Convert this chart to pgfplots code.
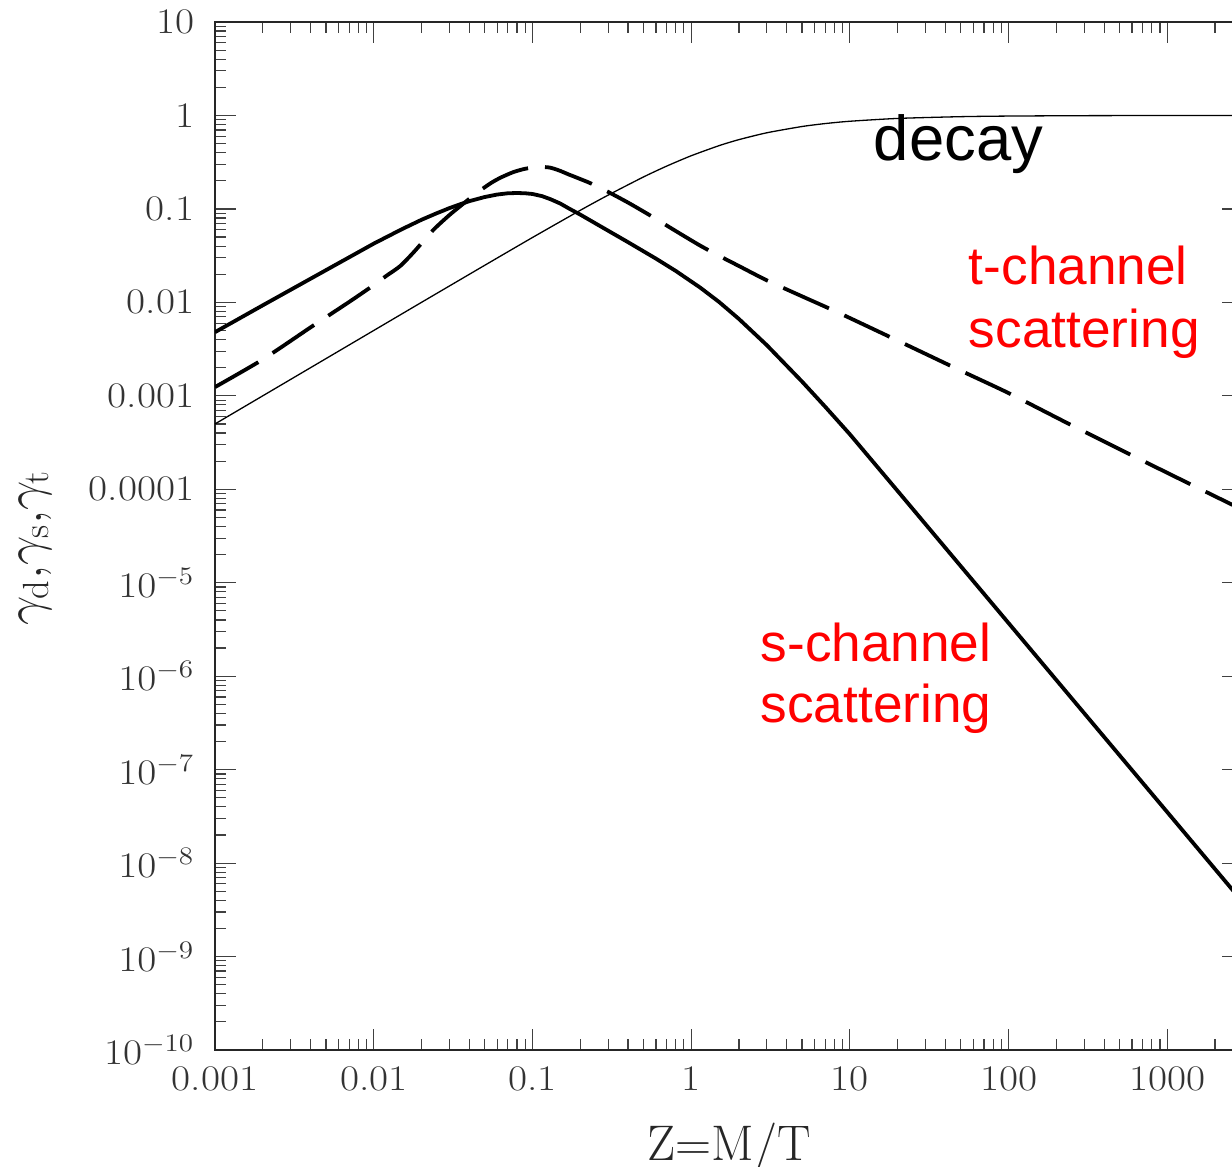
\RequirePackage{fix-cm}
\documentclass[border=0pt]{standalone}
\usepackage{fontspec}
\usepackage{pgfplots}
\pgfplotsset{compat=1.18}
\newfontfamily\arialfont{Liberation Sans}
\definecolor{labred}{RGB}{255,0,0}

\begin{document}
\begin{tikzpicture}
\begin{axis}[
  name=ax,
  at={(0,0)}, anchor=south west,
  scale only axis, width=514pt, height=514pt,
  xmode=log, ymode=log,
  xmin=0.001, xmax=3000, ymin=1e-10, ymax=10,
  axis line style={line width=0.9pt, black!85},
  tick align=inside,
  major tick length=10.5pt, minor tick length=5.5pt,
  every tick/.style={line width=0.6pt, black!75},
  xtick={0.001,0.01,0.1,1,10,100,1000},
  xticklabels={0.001,0.01,0.1,1,10,100,1000},
  minor xtick={0.002,0.003,0.004,0.005,0.006,0.007,0.008,0.009,0.02,0.03,0.04,0.05,0.06,0.07,0.08,0.09,0.2,0.3,0.4,0.5,0.6,0.7,0.8,0.9,2,3,4,5,6,7,8,9,20,30,40,50,60,70,80,90,200,300,400,500,600,700,800,900,2000},
  ytick={1e-10,1e-9,1e-8,1e-7,1e-6,1e-5,1e-4,1e-3,1e-2,1e-1,1,10},
  yticklabels={$10^{-10}$,$10^{-9}$,$10^{-8}$,$10^{-7}$,$10^{-6}$,$10^{-5}$,0.0001,0.001,0.01,0.1,1,10},
  minor ytick={2e-10,3e-10,4e-10,5e-10,6e-10,7e-10,8e-10,9e-10,2e-9,3e-9,4e-9,5e-9,6e-9,7e-9,8e-9,9e-9,2e-8,3e-8,4e-8,5e-8,6e-8,7e-8,8e-8,9e-8,2e-7,3e-7,4e-7,5e-7,6e-7,7e-7,8e-7,9e-7,2e-6,3e-6,4e-6,5e-6,6e-6,7e-6,8e-6,9e-6,2e-5,3e-5,4e-5,5e-5,6e-5,7e-5,8e-5,9e-5,2e-4,3e-4,4e-4,5e-4,6e-4,7e-4,8e-4,9e-4,2e-3,3e-3,4e-3,5e-3,6e-3,7e-3,8e-3,9e-3,0.02,0.03,0.04,0.05,0.06,0.07,0.08,0.09,0.2,0.3,0.4,0.5,0.6,0.7,0.8,0.9,2,3,4,5,6,7,8,9},
  tick label style={font=\fontsize{18}{20}\selectfont, text=black!80, xscale=1.15},
  yticklabel style={xshift=-5.5pt},
  xticklabel style={yshift=-5pt},
  xlabel={Z=M/T},
  xlabel style={font=\fontsize{25}{30}\selectfont, text=black!85, at={([yshift=-55pt]axis description cs:0.5,0)}, anchor=base},
  ylabel={$\gamma_{\rm d},\!\gamma_{\rm s},\!\gamma_{\rm t}$},
  ylabel style={font=\fontsize{26}{30}\selectfont, text=black!85, at={([xshift=-90pt,yshift=-6pt]axis description cs:0,0.5)}, anchor=center},
]
% decay (thin)
\addplot[black, line width=0.65pt, smooth, tension=0.4] coordinates {
(0.001,5.0e-4)(0.002,1.0e-3)(0.005,2.5e-3)(0.01,5.0e-3)(0.02,0.01)(0.05,0.0249)(0.1,0.0494)(0.2,0.0965)(0.3,0.1405)(0.5,0.2194)(0.7,0.2867)(1,0.3704)(1.5,0.4753)(2,0.5512)(3,0.6529)(5,0.7619)(7,0.8191)(10,0.867)(20,0.9295)(50,0.9707)(100,0.9852)(300,0.995)(1000,0.9985)(3000,0.9995)};
% s-channel (thick solid)
\addplot[black, line width=1.9pt, line join=round] coordinates {
(0.001,4.8e-3)(0.002,9.3e-3)(0.005,0.0221)(0.01,0.0425)(0.015,0.0605)(0.02,0.0765)(0.025,0.09)(0.03,0.102)(0.035,0.112)(0.04,0.121)(0.05,0.134)(0.06,0.1425)(0.07,0.147)(0.08,0.148)(0.09,0.147)(0.1,0.1445)(0.115,0.137)(0.13,0.127)(0.15,0.114)(0.17,0.101)(0.2,0.087)(0.27,0.0648)(0.4,0.0441)(0.6,0.0294)(0.8,0.0217)(1.14,0.0144)(1.5,0.0101)(2,0.00665)(3,0.00348)(5,0.00142)(7,7.63e-4)(10,3.88e-4)(20,9.6e-5)(50,1.503e-5)(100,3.70e-6)(200,9.1e-7)(500,1.426e-7)(1000,3.51e-8)(2000,8.63e-9)(3000,3.8e-9)};
% t-channel (thick dashed)
\addplot[black, line width=1.9pt, dash pattern=on 25pt off 8.5pt, smooth, tension=0.4] coordinates {
(0.001,1.24e-3)(0.002,2.45e-3)(0.004,5.4e-3)(0.007,0.0101)(0.01,0.0153)(0.012,0.0192)(0.0147,0.0245)(0.018,0.0349)(0.0237,0.0594)(0.03,0.086)(0.0351,0.107)(0.04,0.128)(0.047,0.158)(0.055,0.19)(0.063,0.216)(0.075,0.246)(0.0875,0.266)(0.1,0.277)(0.115,0.281)(0.13,0.276)(0.15,0.255)(0.166,0.237)(0.2,0.209)(0.231,0.189)(0.3,0.152)(0.4,0.117)(0.55,0.0855)(0.8,0.058)(1.14,0.0405)(1.5,0.0315)(2,0.0245)(3,0.0172)(5,0.0116)(7.2,0.0088)(10,0.0068)(20,0.0039)(50,0.00186)(100,0.00107)(235,5.1e-4)(560,2.44e-4)(1345,1.17e-4)(3000,6.0e-5)};
\node[anchor=base west, inner sep=0pt, font=\arialfont\fontsize{31.7}{36}\selectfont, text=black] at (axis cs:14.1,0.333) {decay};
\node[anchor=base west, inner sep=0pt, font=\arialfont\fontsize{26.6}{30}\selectfont, text=labred] at (axis cs:56,0.01535) {t-channel};
\node[anchor=base west, inner sep=0pt, font=\arialfont\fontsize{26.6}{30}\selectfont, text=labred] at (axis cs:56,3.33e-3) {scattering};
\node[anchor=base west, inner sep=0pt, font=\arialfont\fontsize{26.6}{30}\selectfont, text=labred] at (axis cs:2.73,1.42e-6) {s-channel};
\node[anchor=base west, inner sep=0pt, font=\arialfont\fontsize{26.6}{30}\selectfont, text=labred] at (axis cs:2.73,3.16e-7) {scattering};
\end{axis}
\pgfresetboundingbox
\path[use as bounding box] ([shift={(-107.5pt,-58.5pt)}]ax.south west) rectangle ([shift={(508.5pt,525pt)}]ax.south west);
\end{tikzpicture}
\end{document}
